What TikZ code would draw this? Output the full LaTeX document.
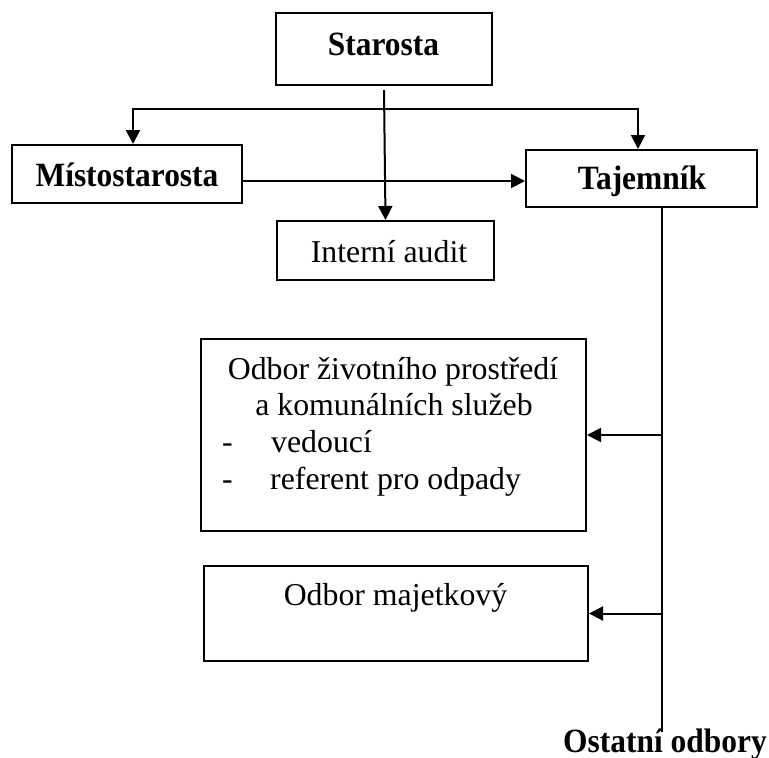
\documentclass[tikz,border=0pt]{standalone}
\usepackage{fontspec}
\usepackage{graphicx}
\setmainfont{Liberation Serif}
\usetikzlibrary{arrows.meta}
\newcommand{\bnarrow}[1]{\scalebox{0.925}[1]{#1}}
\begin{document}
\begin{tikzpicture}[x=1pt,y=-1pt,
  box/.style={draw, line width=2pt, inner sep=0pt},
  arr/.style={line width=2pt, -{Triangle[length=14pt,width=14pt]}},
  conn/.style={line width=2pt},
  bt/.style={inner sep=0pt, anchor=base, font=\fontsize{34}{38}\selectfont\bfseries},
  rt/.style={inner sep=0pt, anchor=base, font=\fontsize{31.8}{36.7}\selectfont},
  rtl/.style={inner sep=0pt, anchor=base west, font=\fontsize{31.8}{36.7}\selectfont}]
\useasboundingbox (0,0) rectangle (769,758);
% boxes
\node[box, minimum width=216pt, minimum height=72pt] (star) at (384,49) {};
\node[box, minimum width=230pt, minimum height=58pt] (mist) at (127,174) {};
\node[box, minimum width=231pt, minimum height=57pt] (taj) at (641.5,178.5) {};
\node[box, minimum width=217pt, minimum height=59pt] (audit) at (385.5,250.5) {};
\node[box, minimum width=385pt, minimum height=192pt] (odb1) at (393.5,435) {};
\node[box, minimum width=384pt, minimum height=95pt] (odb2) at (396,613.5) {};
% texts
\node[bt] (tstar) at (383.5,55) {\bnarrow{Starosta}};
\node[bt] (tmist) at (127,186) {\bnarrow{Místostarosta}};
\node[bt] (ttaj) at (642,189) {\bnarrow{Tajemník}};
\node[rt] (taudit) at (389,262) {Interní audit};
\node[rt] (to1a) at (393,379) {Odbor životního prostředí};
\node[rt] (to1b) at (394,415) {a komunálních služeb};
\node[rtl] (to1c) at (222,452) {-};
\node[rtl] (to1d) at (271,452) {vedoucí};
\node[rtl] (to1e) at (222,489) {-};
\node[rtl] (to1f) at (270,489) {referent pro odpady};
\node[rt] (to2) at (395.5,605) {Odbor majetkový};
% connectors
\coordinate (j) at (385,109);
\draw[arr] ([yshift=-4pt]star.south) -- (audit.north);
\draw[arr] (j) -| ([xshift=6pt]mist.north);
\draw[arr] (j) -| ([xshift=-3.5pt]taj.north);
\draw[arr] ([yshift=-7pt]mist.east) -- ([yshift=-7pt]mist.east -| taj.west);
\coordinate (t1) at ([xshift=20.5pt]taj.south);
\coordinate (tend) at (662,732);
\draw[conn] (t1) -- (tend);
\draw[arr] (t1 |- odb1.east) -- (odb1.east);
\draw[arr] (t1 |- odb2.east) -- (odb2.east);
\node[bt] (tost) at (665,752) {\bnarrow{Ostatní odbory}};
\end{tikzpicture}
\end{document}
